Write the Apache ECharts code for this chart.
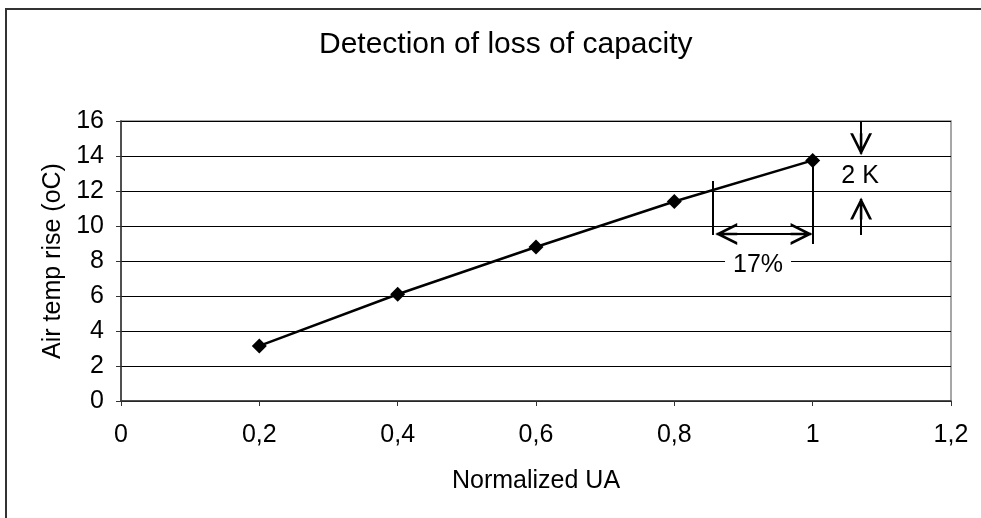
<!DOCTYPE html>
<html>
<head>
<meta charset="utf-8">
<script src="https://cdn.jsdelivr.net/npm/echarts@6/dist/echarts.min.js"></script>
<style>
  html, body { margin: 0; padding: 0; background: #fff; }
  #chart { width: 981px; height: 518px; }
</style>
</head>
<body>
<div id="chart"></div>
<script>
// data
const uaValues = [0.2, 0.4, 0.6, 0.8, 1.0]
const tempRise = [3.15, 6.1, 8.8, 11.4, 13.75]
const xTicks = [0, 0.2, 0.4, 0.6, 0.8, 1.0, 1.2]
const yTicks = [0, 2, 4, 6, 8, 10, 12, 14, 16]

// annotation geometry (data units); arrow ends are the arrowhead centres
const leftMarkX = 0.8555
const leftMarkY = [9.49, 12.57]
const rightMarkY = [8.97, 13.75]
const spanArrow = [0.875, 0.984, 9.54]
const spanLabel = [0.921, 7.77, '17%']
const kArrowX = 1.07
const kArrowDown = [16, 14.67]
const kArrowUp = [9.49, 11.0]
const kLabel = [1.0685, 12.83, '2 K']

const fontFamily = 'Liberation Sans, Arial, sans-serif'
// open arrowhead (tip at top) with a bit of shaft down to the centre
const chevron = 'path://M6,0 L12,12 L10.4,12 L6,3.2 L1.6,12 L0,12 Z M5.3,0.8 L6.7,0.8 L6.7,12 L5.3,12 Z'

const chart = echarts.init(document.getElementById('chart'))

const annoLine = { color: '#000', width: 2, type: 'solid' }
const head = { symbol: chevron, symbolSize: [22, 22] }

const option = {
  backgroundColor: '#fff',
  animation: false,
  title: {
    text: 'Detection of loss of capacity',
    left: 314,
    top: 25,
    textStyle: { fontFamily, fontSize: 30, fontWeight: 'normal', color: '#000' }
  },
  graphic: [
    {
      type: 'rect',
      shape: { x: 6, y: 9, width: 1100, height: 700 },
      style: { fill: null, stroke: '#333', lineWidth: 2 },
      silent: true
    }
  ],
  grid: {
    left: 121, right: 30, top: 121, bottom: 117,
    show: true, borderColor: '#8a8a8a', borderWidth: 1.5, backgroundColor: '#fff'
  },
  xAxis: {
    type: 'value',
    min: xTicks[0],
    max: xTicks[xTicks.length - 1],
    interval: 0.2,
    name: 'Normalized UA',
    nameLocation: 'middle',
    nameGap: 68,
    nameTextStyle: { fontFamily, fontSize: 25, color: '#000' },
    axisLine: { show: true, onZero: false, lineStyle: { color: '#333', width: 1.5 } },
    axisTick: { show: true, inside: false, length: 5, lineStyle: { color: '#333' } },
    axisLabel: {
      fontFamily, fontSize: 25, color: '#000', margin: 22,
      formatter: v => String(Math.round(v * 10) / 10).replace('.', ',')
    },
    splitLine: { show: false }
  },
  yAxis: {
    type: 'value',
    min: yTicks[0],
    max: yTicks[yTicks.length - 1],
    interval: 2,
    name: 'Air temp rise (oC)',
    nameLocation: 'middle',
    nameGap: 52,
    nameTextStyle: { fontFamily, fontSize: 25, color: '#000' },
    axisLine: { show: true, lineStyle: { color: '#333', width: 1.5 } },
    axisTick: { show: true, inside: false, length: 5, lineStyle: { color: '#333' } },
    axisLabel: { fontFamily, fontSize: 25, color: '#000', margin: 17 },
    splitLine: { show: true, lineStyle: { color: '#000', width: 1 } }
  },
  series: [
    {
      name: 'Air temp rise',
      type: 'line',
      clip: false,
      data: uaValues.map((x, i) => [x, tempRise[i]]),
      symbol: 'diamond',
      symbolSize: 15,
      lineStyle: { color: '#000', width: 2.5 },
      itemStyle: { color: '#000' },
      z: 5,
      markLine: {
        silent: true,
        animation: false,
        label: { show: false },
        symbol: ['none', 'none'],
        lineStyle: annoLine,
        data: [
          [{ coord: [leftMarkX, leftMarkY[0]] }, { coord: [leftMarkX, leftMarkY[1]] }],
          [{ coord: [uaValues[4], rightMarkY[0]] }, { coord: [uaValues[4], rightMarkY[1]] }],
          [
            Object.assign({ coord: [spanArrow[0], spanArrow[2]] }, head),
            Object.assign({ coord: [spanArrow[1], spanArrow[2]] }, head)
          ],
          [
            { coord: [kArrowX, kArrowDown[0]], symbol: 'none' },
            Object.assign({ coord: [kArrowX, kArrowDown[1]] }, head)
          ],
          [
            { coord: [kArrowX, kArrowUp[0]], symbol: 'none' },
            Object.assign({ coord: [kArrowX, kArrowUp[1]] }, head)
          ]
        ]
      },
      markPoint: {
        silent: true,
        animation: false,
        symbol: 'rect',
        symbolSize: [70, 24],
        itemStyle: { color: 'rgba(255,255,255,0)' },
        data: [
          {
            coord: [spanLabel[0], spanLabel[1]],
            symbolSize: [66, 24],
            itemStyle: { color: '#fff' },
            label: { show: true, formatter: spanLabel[2], fontFamily, fontSize: 25, color: '#000' }
          },
          {
            coord: [kLabel[0], kLabel[1]],
            label: { show: true, formatter: kLabel[2], fontFamily, fontSize: 25, color: '#000' }
          }
        ]
      }
    }
  ]
}

chart.setOption(option)
</script>
</body>
</html>
